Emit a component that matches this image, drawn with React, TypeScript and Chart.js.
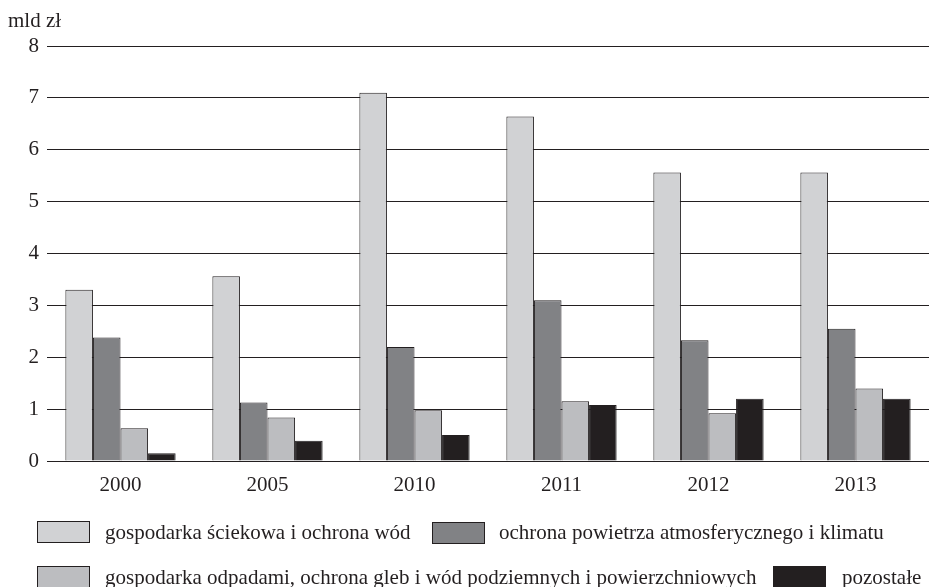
import React, { useEffect, useRef } from "react";
import { Chart, registerables } from "chart.js";

Chart.register(...registerables);

const categories = ["2000", "2005", "2010", "2011", "2012", "2013"];
const seriesNames = [
  "gospodarka ściekowa i ochrona wód",
  "ochrona powietrza atmosferycznego i klimatu",
  "gospodarka odpadami, ochrona gleb i wód podziemnych i powierzchniowych",
  "pozostałe",
];
const wastewater = [3.3, 3.56, 7.1, 6.64, 5.56, 5.56];
const air = [2.38, 1.13, 2.2, 3.1, 2.33, 2.55];
const waste = [0.63, 0.84, 0.98, 1.15, 0.92, 1.4];
const other = [0.15, 0.39, 0.5, 1.08, 1.2, 1.2];
const yTicks = [0, 1, 2, 3, 4, 5, 6, 7, 8];
const unitLabel = "mld zł";

const colors = ["#d1d2d4", "#818285", "#bcbdc0", "#231f20"];
const ink = "#231f20";
const font = "'Liberation Serif', 'Times New Roman', serif";

export default function App() {
  const ref = useRef<HTMLCanvasElement | null>(null);
  useEffect(() => {
    if (!ref.current) return;
    const values = [wastewater, air, waste, other];
    const chart = new Chart(ref.current, {
      type: "bar",
      data: {
        labels: categories,
        datasets: values.map((v, i) => ({
          label: seriesNames[i],
          data: v,
          backgroundColor: colors[i],
          borderColor: ink,
          borderWidth: 1,
          categoryPercentage: 0.75,
          barPercentage: 1,
        })),
      },
      options: {
        animation: false,
        responsive: false,
        layout: { padding: { top: 46, left: 0, right: 0, bottom: 91 } },
        plugins: { legend: { display: false }, tooltip: { enabled: false } },
        scales: {
          x: {
            grid: { display: false, drawTicks: false },
            border: { display: false },
            ticks: { color: ink, font: { family: font, size: 21 }, padding: 12 },
            afterFit: (axis: any) => {
              axis.height = 35;
            },
          },
          y: {
            min: 0,
            max: 8,
            afterBuildTicks: (axis: any) => {
              axis.ticks = yTicks.map((v) => ({ value: v }));
            },
            grid: { color: ink, lineWidth: 1, drawTicks: false },
            border: { display: false },
            ticks: { color: ink, font: { family: font, size: 21 }, padding: 8 },
            afterFit: (axis: any) => {
              axis.width = 47;
            },
          },
        },
      },
    });
    return () => chart.destroy();
  }, []);

  const textStyle: React.CSSProperties = {
    position: "absolute",
    fontFamily: font,
    fontSize: 21,
    color: ink,
    whiteSpace: "nowrap",
    lineHeight: "22px",
  };
  const box = (c: string): React.CSSProperties => ({
    position: "absolute",
    width: 53,
    height: 22,
    background: c,
    border: `1px solid ${ink}`,
    boxSizing: "border-box",
  });

  return (
    <div style={{ position: "absolute", left: 0, top: 0, width: 929, height: 587, background: "#fff", overflow: "hidden" }}>
      <canvas ref={ref} width={929} height={587} style={{ position: "absolute", left: 0, top: 0 }} />
      <div style={{ ...textStyle, left: 8, top: 9 }}>{unitLabel}</div>
      <div style={{ ...box(colors[0]), left: 37, top: 521 }} />
      <div style={{ ...textStyle, left: 105, top: 521 }}>{seriesNames[0]}</div>
      <div style={{ ...box(colors[1]), left: 432, top: 522 }} />
      <div style={{ ...textStyle, left: 499, top: 521 }}>{seriesNames[1]}</div>
      <div style={{ ...box(colors[2]), left: 37, top: 566 }} />
      <div style={{ ...textStyle, left: 105, top: 566 }}>{seriesNames[2]}</div>
      <div style={{ ...box(colors[3]), left: 773, top: 566 }} />
      <div style={{ ...textStyle, left: 842, top: 566 }}>{seriesNames[3]}</div>
    </div>
  );
}
